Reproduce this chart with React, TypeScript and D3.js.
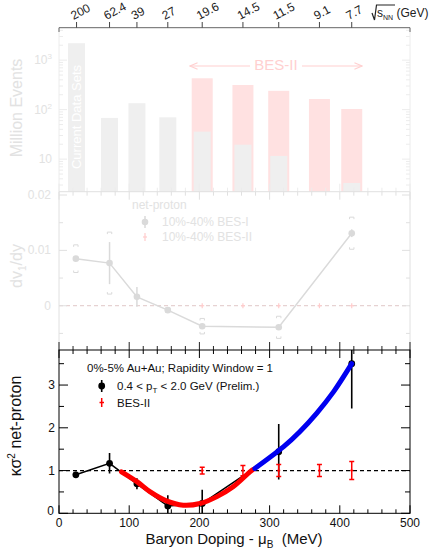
import React from 'react';
import * as d3 from 'd3';

// collision energies and matching baryon chemical potential
const energies = ['200', '62.4', '39', '27', '19.6', '14.5', '11.5', '9.1', '7.7'];
const energyMuB = [25, 72, 111, 155, 204, 262, 313, 371, 417];

// million events per energy
const currentEvents = [2200, 68, 135, 70, 36, 19.6, 11.6, 0, 3.3];
const besIIEvents = [0, 0, 0, 0, 430, 315, 240, 164, 103];

// dv1/dy net-proton 10-40%
const dv1MuB = [24, 72, 111, 155, 204, 313, 417];
const dv1 = [0.0085, 0.0077, 0.0016, -0.0008, -0.0037, -0.0039, 0.0131];
const dv1Err = [0.0004, 0.0038, 0.0018, 0.0004, 0.0003, 0.0004, 0.0007];
const dv1Sys = [0.0025, 0.0056, 0, 0.0004, 0.0014, 0.002, 0.0029];
const dv1BesMuB = [204, 262, 313, 371, 417];
const dv1Bes = [0, 0, 0, 0, 0];

// kappa sigma^2 net-proton 0-5%
const kMuB = [24, 72, 111, 155, 204, 313, 417];
const kVal = [0.9, 1.17, 0.69, 0.17, 0.23, 1.44, 3.5];
const kErr = [0.07, 0.24, 0.13, 0.25, 0.32, 0.65, 1.05];
const besMuB = [204, 262, 313, 371, 417];
const besVal = [1, 1, 1, 1, 1];
const besErr = [0.08, 0.12, 0.14, 0.14, 0.21];

// hand-drawn expectation curves
const redMuB = [89, 111, 130, 153, 177, 201, 225, 248, 272, 277];
const redVal = [0.97, 0.74, 0.5, 0.29, 0.19, 0.23, 0.39, 0.62, 0.97, 1.03];
const blueMuB = [279, 320, 343, 367, 391, 417];
const blueVal = [1.05, 1.56, 1.91, 2.34, 2.84, 3.5];

const xTicksMajor = [0, 100, 200, 300, 400, 500];
const xTicksMinor = d3.range(0, 501, 20);
const kTicks = [0, 1, 2, 3];
const kTicksMinor = [0.5, 1.5, 2.5, 3.5];
const dvTicks = [0, 0.01, 0.02];
const dvTicksMinor = [-0.005, 0.005, 0.015];
const evTicks = [10, 100, 1000];

const FONT = 'Liberation Sans, Arial, Helvetica, sans-serif';
const LEFT = 59;
const RIGHT = 410;

const x = d3.scaleLinear().domain([0, 500]).range([LEFT, RIGHT]);
const yTop = d3.scaleLog().domain([2.2, 4400]).range([191.7, 28.3]);
const yMid = d3.scaleLinear().domain([-0.008, 0.0206]).range([350, 191.7]);
const yBot = d3.scaleLinear().domain([0, 3.82]).range([513.3, 350]);

const GRAY_TXT = '#e2e2e2';
const GRAY_BAR = '#efefef';
const PINK_BAR = '#ffe1e1';
const PINK_TXT = '#ffd0d0';
const MID = '#dadada';

function XTicks({ y0, y1, dir, color }: { y0: number; y1: number; dir: number; color: string }) {
  // ticks on top (y0) and bottom (y1) edges, pointing inward
  return (
    <g stroke={color} strokeWidth={1}>
      {xTicksMinor.map(t => {
        const len = xTicksMajor.includes(t) ? 8 : 4;
        return (
          <g key={t}>
            {dir & 1 ? <line x1={x(t)} x2={x(t)} y1={y0} y2={y0 + len} /> : null}
            {dir & 2 ? <line x1={x(t)} x2={x(t)} y1={y1} y2={y1 - len} /> : null}
          </g>
        );
      })}
    </g>
  );
}

function Brackets({ cx, lo, hi, color }: { cx: number; lo: number; hi: number; color: string }) {
  const w = 2.2;
  return (
    <g stroke={color} fill="none" strokeWidth={1}>
      <path d={`M${cx - w},${hi + 2}V${hi}H${cx + w}V${hi + 2}`} />
      <path d={`M${cx - w},${lo - 2}V${lo}H${cx + w}V${lo - 2}`} />
    </g>
  );
}

export default function App() {
  const redLine = d3.line<number>().x((d, i) => x(redMuB[i])).y(d => yBot(d)).curve(d3.curveCatmullRom);
  const blueLine = d3.line<number>().x((d, i) => x(blueMuB[i])).y(d => yBot(d)).curve(d3.curveCatmullRom);
  const kLine = d3.line<number>().x((d, i) => x(kMuB[i])).y(d => yBot(d));
  const dvLine = d3.line<number>().x((d, i) => x(dv1MuB[i])).y(d => yMid(d));

  const logMinor: number[] = [];
  [1, 10, 100, 1000].forEach(dec => {
    for (let k = 2; k <= 9; k++) {
      const v = dec * k;
      if (v >= 2.2 && v <= 4400) logMinor.push(v);
    }
  });

  return (
    <svg width={429} height={552} style={{ position: 'absolute', left: 0, top: 0, background: '#fff' }} fontFamily={FONT}>
      <defs>
        <marker id="arr" viewBox="0 0 10 10" refX="9" refY="5" markerWidth="7" markerHeight="7" orient="auto-start-reverse">
          <path d="M0,1L9,5L0,9" fill="none" stroke={PINK_TXT} strokeWidth={1.3} />
        </marker>
        <clipPath id="botClip">
          <rect x={LEFT} y={350} width={RIGHT - LEFT} height={513.3 - 350} />
        </clipPath>
      </defs>

      {/* ===== top panel: events ===== */}
      {energies.map((e, i) => (
        <g key={e}>
          {besIIEvents[i] > 0 ? (
            <rect x={x(energyMuB[i]) - 10.5} width={21} y={yTop(besIIEvents[i])} height={191.7 - yTop(besIIEvents[i])} fill={PINK_BAR} />
          ) : null}
          {currentEvents[i] > 0 ? (
            <rect x={x(energyMuB[i]) - 8.5} width={17} y={yTop(currentEvents[i])} height={191.7 - yTop(currentEvents[i])} fill={GRAY_BAR} />
          ) : null}
        </g>
      ))}
      <text transform={`translate(${x(energyMuB[0]) + 4},117) rotate(-90)`} textAnchor="middle" fontSize={13} fill="#fff">Current Data Sets</text>
      <text x={276} y={70} textAnchor="middle" fontSize={15} fill={PINK_TXT}>BES-II</text>
      <line x1={250} x2={190} y1={66} y2={66} stroke={PINK_TXT} strokeWidth={1.2} markerEnd="url(#arr)" />
      <line x1={302} x2={362} y1={66} y2={66} stroke={PINK_TXT} strokeWidth={1.2} markerEnd="url(#arr)" />
      {/* frame */}
      <g stroke="#ececec" strokeWidth={1} fill="none">
        <line x1={LEFT} x2={LEFT} y1={28} y2={191.7} />
        <line x1={RIGHT} x2={RIGHT} y1={28} y2={191.7} />
        {evTicks.map(t => (
          <g key={t}>
            <line x1={LEFT} x2={LEFT + 8} y1={yTop(t)} y2={yTop(t)} />
            <line x1={RIGHT} x2={RIGHT - 8} y1={yTop(t)} y2={yTop(t)} />
          </g>
        ))}
        {logMinor.map(t => (
          <g key={t}>
            <line x1={LEFT} x2={LEFT + 4} y1={yTop(t)} y2={yTop(t)} />
            <line x1={RIGHT} x2={RIGHT - 4} y1={yTop(t)} y2={yTop(t)} />
          </g>
        ))}
      </g>
      <XTicks y0={28} y1={191.7} dir={2} color="#ececec" />
      <g fill={GRAY_TXT} fontSize={12} textAnchor="end">
        <text x={52} y={yTop(1000) + 4}>10<tspan fontSize={8} dy={-5}>3</tspan></text>
        <text x={52} y={yTop(100) + 4}>10<tspan fontSize={8} dy={-5}>2</tspan></text>
        <text x={52} y={yTop(10) + 4}>10</text>
      </g>
      <text transform="translate(22,108) rotate(-90)" textAnchor="middle" fontSize={16} fill={GRAY_TXT}>Million Events</text>

      {/* top axis: sqrt(sNN) */}
      <line x1={LEFT} x2={RIGHT} y1={27.7} y2={27.7} stroke="#666" strokeWidth={1} />
      <line x1={LEFT} x2={LEFT} y1={27.7} y2={32} stroke="#666" />
      <line x1={RIGHT} x2={RIGHT} y1={27.7} y2={32} stroke="#666" />
      {energies.map((e, i) => (
        <g key={e}>
          <line x1={x(energyMuB[i])} x2={x(energyMuB[i])} y1={22} y2={27.7} stroke="#444" />
          <text transform={`translate(${x(energyMuB[i]) - 3},20) rotate(-28)`} fontSize={12} fill="#222">{e}</text>
        </g>
      ))}
      <path d="M372,13L374.5,20L376.5,5H395" fill="none" stroke="#222" strokeWidth={1.2} />
      <text x={377} y={17} fontSize={12} fill="#222">s<tspan fontSize={7} dy={3}>NN</tspan><tspan dy={-3}> (GeV)</tspan></text>

      {/* ===== middle panel: dv1/dy ===== */}
      <line x1={LEFT} x2={RIGHT} y1={yMid(0)} y2={yMid(0)} stroke="#e6d2d2" strokeDasharray="4,3" strokeWidth={1.2} />
      <path d={dvLine(dv1) || ''} fill="none" stroke={MID} strokeWidth={1.5} />
      {dv1.map((v, i) => (
        <g key={i}>
          <line x1={x(dv1MuB[i])} x2={x(dv1MuB[i])} y1={yMid(v - dv1Err[i])} y2={yMid(v + dv1Err[i])} stroke={MID} strokeWidth={1.5} />
          {dv1Sys[i] > 0 ? <Brackets cx={x(dv1MuB[i])} lo={yMid(v - dv1Sys[i])} hi={yMid(v + dv1Sys[i])} color={MID} /> : null}
          <circle cx={x(dv1MuB[i])} cy={yMid(v)} r={3.3} fill={MID} />
        </g>
      ))}
      {dv1Bes.map((v, i) => (
        <g key={i} stroke="#ffcccc" strokeWidth={1.2}>
          <line x1={x(dv1BesMuB[i]) - 2} x2={x(dv1BesMuB[i]) + 2} y1={yMid(v)} y2={yMid(v)} />
          <line x1={x(dv1BesMuB[i])} x2={x(dv1BesMuB[i])} y1={yMid(v) - 2.5} y2={yMid(v) + 2.5} />
        </g>
      ))}
      <g stroke="#e0e0e0" strokeWidth={1} fill="none">
        <line x1={LEFT} x2={LEFT} y1={191.7} y2={350} />
        <line x1={RIGHT} x2={RIGHT} y1={191.7} y2={350} />
        <line x1={LEFT} x2={RIGHT} y1={191.7} y2={191.7} />
        {dvTicks.map(t => (
          <g key={t}>
            <line x1={LEFT} x2={LEFT + 8} y1={yMid(t)} y2={yMid(t)} />
            <line x1={RIGHT} x2={RIGHT - 8} y1={yMid(t)} y2={yMid(t)} />
          </g>
        ))}
        {dvTicksMinor.map(t => (
          <g key={t}>
            <line x1={LEFT} x2={LEFT + 4} y1={yMid(t)} y2={yMid(t)} />
            <line x1={RIGHT} x2={RIGHT - 4} y1={yMid(t)} y2={yMid(t)} />
          </g>
        ))}
      </g>
      <XTicks y0={191.7} y1={350} dir={1} color="#e0e0e0" />
      <XTicks y0={191.7} y1={350} dir={2} color="#222" />
      <g fill={GRAY_TXT} fontSize={12} textAnchor="end">
        {dvTicks.map(t => (
          <text key={t} x={51} y={yMid(t) + 4}>{t === 0 ? '0' : t.toFixed(2)}</text>
        ))}
      </g>
      <text transform="translate(22,266) rotate(-90)" textAnchor="middle" fontSize={16} fill={GRAY_TXT}>dv<tspan fontSize={10} dy={4}>1</tspan><tspan dy={-4}>/dy</tspan></text>
      <text x={132} y={209} fontSize={12} fill={GRAY_TXT}>net-proton</text>
      <line x1={145} x2={145} y1={216} y2={228} stroke={MID} strokeWidth={1.5} />
      <circle cx={145} cy={222} r={3.3} fill={MID} />
      <text x={162} y={226} fontSize={12} fill={GRAY_TXT}>10%-40% BES-I</text>
      <line x1={145} x2={145} y1={233} y2={241} stroke="#ffcccc" strokeWidth={1.2} />
      <line x1={143} x2={147} y1={237} y2={237} stroke="#ffcccc" strokeWidth={1.2} />
      <text x={162} y={241} fontSize={12} fill={GRAY_TXT}>10%-40% BES-II</text>

      {/* ===== bottom panel: kappa sigma^2 ===== */}
      <g clipPath="url(#botClip)">
        <line x1={LEFT} x2={RIGHT} y1={yBot(1)} y2={yBot(1)} stroke="#000" strokeDasharray="4,3" strokeWidth={1.2} />
        <path d={kLine(kVal.slice(0, 6)) || ''} fill="none" stroke="#000" strokeWidth={1.5} />
        {kVal.map((v, i) => (
          <line key={i} x1={x(kMuB[i])} x2={x(kMuB[i])} y1={yBot(v - kErr[i])} y2={yBot(v + kErr[i])} stroke="#000" strokeWidth={1.6} />
        ))}
        {kVal.map((v, i) => (
          <circle key={i} cx={x(kMuB[i])} cy={yBot(v)} r={3.4} fill="#000" />
        ))}
        <path d={redLine(redVal) || ''} fill="none" stroke="#f00" strokeWidth={5} strokeLinecap="round" />
        <path d={blueLine(blueVal) || ''} fill="none" stroke="#0000f0" strokeWidth={5} strokeLinecap="round" />
        {besVal.map((v, i) => {
          const cx = x(besMuB[i]);
          const lo = yBot(v - besErr[i]);
          const hi = yBot(v + besErr[i]);
          return (
            <g key={i} stroke="#f00" strokeWidth={1.5}>
              <line x1={cx} x2={cx} y1={lo} y2={hi} />
              <line x1={cx - 2.5} x2={cx + 2.5} y1={lo} y2={lo} />
              <line x1={cx - 2.5} x2={cx + 2.5} y1={hi} y2={hi} />
              <line x1={cx - 1.5} x2={cx + 1.5} y1={yBot(v)} y2={yBot(v)} />
            </g>
          );
        })}
      </g>
      <rect x={LEFT} y={350} width={RIGHT - LEFT} height={513.3 - 350} fill="none" stroke="#000" strokeWidth={1} />
      <g stroke="#000" strokeWidth={1}>
        {kTicks.map(t => (
          <g key={t}>
            <line x1={LEFT} x2={LEFT + 9} y1={yBot(t)} y2={yBot(t)} />
            <line x1={RIGHT} x2={RIGHT - 9} y1={yBot(t)} y2={yBot(t)} />
          </g>
        ))}
        {kTicksMinor.map(t => (
          <g key={t}>
            <line x1={LEFT} x2={LEFT + 5} y1={yBot(t)} y2={yBot(t)} />
            <line x1={RIGHT} x2={RIGHT - 5} y1={yBot(t)} y2={yBot(t)} />
          </g>
        ))}
      </g>
      <XTicks y0={350} y1={513.3} dir={3} color="#000" />
      <g fill="#111" fontSize={12}>
        {kTicks.map(t => (
          <text key={t} x={t === 0 ? 54 : 55} y={yBot(t) + (t === 0 ? 2 : 4)} textAnchor="end">{t}</text>
        ))}
        {xTicksMajor.map(t => (
          <text key={t} x={x(t)} y={527} textAnchor="middle">{t}</text>
        ))}
      </g>
      <text x={234} y={544} textAnchor="middle" fontSize={15} fill="#111">
        Baryon Doping - μ<tspan fontSize={10} dy={4}>B</tspan><tspan dy={-4}>{'\u00a0\u00a0(MeV)'}</tspan>
      </text>
      <text transform="translate(21,426) rotate(-90)" textAnchor="middle" fontSize={16} fill="#111">
        κσ<tspan fontSize={10} dy={-6}>2</tspan><tspan dy={6}> net-proton</tspan>
      </text>

      {/* legend */}
      <text x={87} y={372} fontSize={11.5} fill="#111">0%-5% Au+Au; Rapidity Window = 1</text>
      <line x1={101.7} x2={101.7} y1={380} y2={392} stroke="#000" strokeWidth={1.6} />
      <circle cx={101.7} cy={386} r={3.4} fill="#000" />
      <text x={117} y={390} fontSize={11.5} fill="#111">0.4 &lt; p<tspan fontSize={8} dy={3}>T</tspan><tspan dy={-3}> &lt; 2.0 GeV (Prelim.)</tspan></text>
      <g stroke="#f00" strokeWidth={1.5}>
        <line x1={101.7} x2={101.7} y1={398} y2={407} />
        <line x1={99.5} x2={104} y1={402.5} y2={402.5} />
      </g>
      <text x={117} y={406.5} fontSize={11.5} fill="#111">BES-II</text>
    </svg>
  );
}
